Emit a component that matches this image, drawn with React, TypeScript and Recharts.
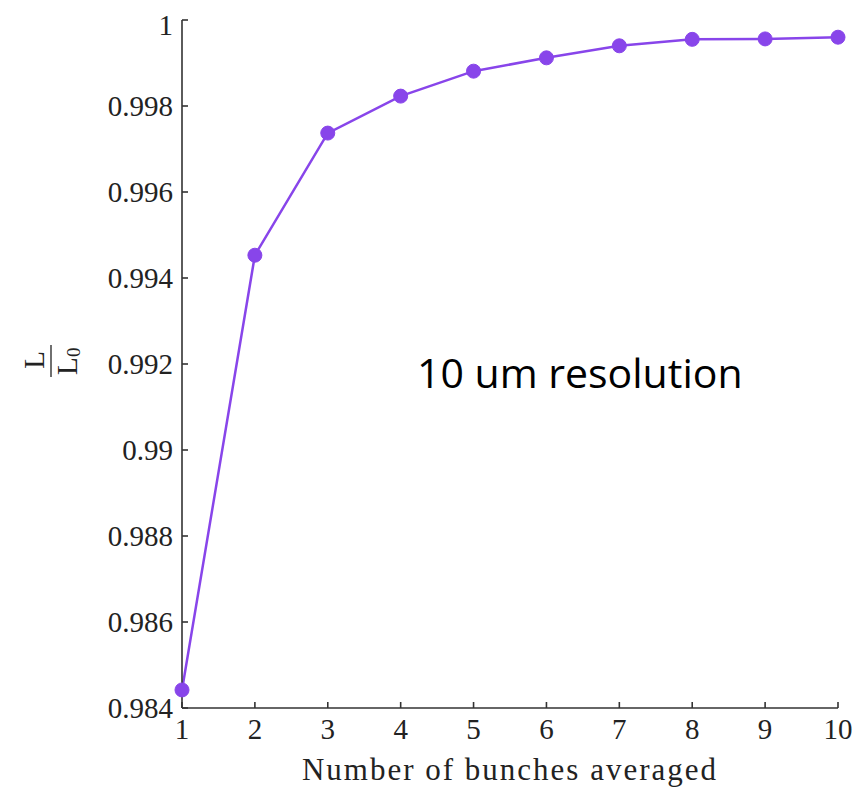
import { LineChart, Line, XAxis, YAxis, Customized } from "recharts"

const bunches = [1, 2, 3, 4, 5, 6, 7, 8, 9, 10]
const ratio = [0.98442, 0.99453, 0.99737, 0.99823, 0.99881, 0.99912, 0.9994, 0.99955, 0.99956, 0.9996]
const yTicks = [0.984, 0.986, 0.988, 0.99, 0.992, 0.994, 0.996, 0.998, 1]
const xTicks = [1, 2, 3, 4, 5, 6, 7, 8, 9, 10]

const data = bunches.map((n, i) => ({ n, ratio: ratio[i] }))

const serif = "'Liberation Serif', 'Times New Roman', serif"
const axisColor = "#333333"
const purple = "#8845ea"

const tickStyle = { fontFamily: serif, fontSize: 29, fill: "#222" }

// L / L0 fraction written sideways, as in the reference
const FractionLabel = () => {
  const cx = 43
  const cy = 353
  const at = (lx: number, ly: number) => [cx + ly, cy - lx]
  const [nx, ny] = at(1, -7)
  const [dx, dy] = at(-14, 26)
  const [sx, sy] = at(4, 29)
  return (
    <g fontFamily={serif} fill="#222">
      <text x={nx} y={ny} textAnchor="middle" fontSize={29} transform={`rotate(-90, ${nx}, ${ny})`}>
        L
      </text>
      <line x1={cx} y1={cy - 16} x2={cx} y2={cy + 16} stroke="#222" strokeWidth={1.3} />
      <text x={dx} y={dy} textAnchor="start" fontSize={29} transform={`rotate(-90, ${dx}, ${dy})`}>
        L
      </text>
      <text x={sx} y={sy} textAnchor="start" fontSize={19} transform={`rotate(-90, ${sx}, ${sy})`}>
        0
      </text>
    </g>
  )
}

const Annotation = () => (
  <text
    x={409}
    y={380}
    fontFamily="'Open Sans', sans-serif"
    fontSize={41}
    fill="#000"
  >
    10 um resolution
  </text>
)

export default function App() {
  return (
    <LineChart
      width={845}
      height={781}
      data={data}
      margin={{ top: 12, right: 15, bottom: 6, left: 0 }}
    >
      <XAxis
        dataKey="n"
        type="number"
        domain={[1, 10]}
        ticks={xTicks}
        tick={tickStyle}
        tickSize={-6}
        tickMargin={16}
        height={75}
        axisLine={{ stroke: axisColor, strokeWidth: 1.6 }}
        tickLine={{ stroke: axisColor, strokeWidth: 1.6 }}
        label={{
          value: "Number of bunches averaged",
          position: "insideBottom",
          offset: 3,
          style: { fontFamily: serif, fontSize: 31, fill: "#222", letterSpacing: 2 },
        }}
      />
      <YAxis
        type="number"
        domain={[0.984, 1]}
        ticks={yTicks}
        width={174}
        tick={tickStyle}
        tickFormatter={(v: number) => String(Number(v.toFixed(3)))}
        tickSize={-6}
        tickMargin={15}
        axisLine={{ stroke: axisColor, strokeWidth: 1.6 }}
        tickLine={{ stroke: axisColor, strokeWidth: 1.6 }}
      />
      <Line
        type="linear"
        dataKey="ratio"
        stroke={purple}
        strokeWidth={2.5}
        dot={{ r: 7, fill: purple, stroke: purple, strokeWidth: 1 }}
        isAnimationActive={false}
      />
      <Customized component={FractionLabel} />
      <Customized component={Annotation} />
    </LineChart>
  )
}
